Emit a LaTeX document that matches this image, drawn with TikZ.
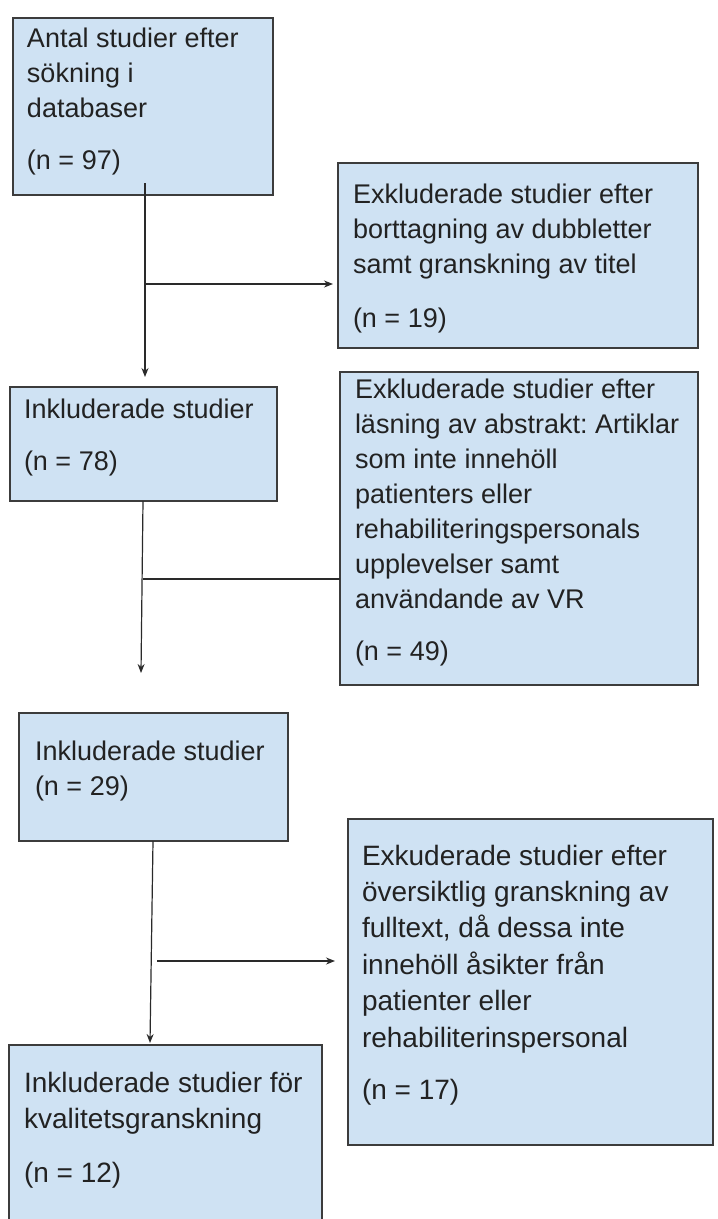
\documentclass[tikz,border=0pt]{standalone}
\usepackage{fontspec}
\setmainfont{Liberation Sans}
\usetikzlibrary{arrows.meta}
\frenchspacing
\definecolor{boxfill}{HTML}{CFE2F3}
\definecolor{boxline}{HTML}{3C3C3C}
\definecolor{txt}{HTML}{222222}
\definecolor{conn}{HTML}{2A2A2A}
% #1 height, #2 inner width, #3 first-baseline offset, #4 text
\newcommand{\bt}[4]{\parbox[c][#1pt][t]{#2pt}{\raggedright\frenchspacing\rule{0pt}{#3pt}#4}}
\tikzset{
  flowbox/.style={draw=boxline, fill=boxfill, line width=1.3pt, anchor=north west,
    inner ysep=0pt, outer sep=0pt, text=txt, font=\fontsize{27}{35}\selectfont},
  bigfont/.style={font=\fontsize{28}{36.4}\selectfont},
  conn/.style={draw=conn, line width=1.2pt},
  arr/.style={conn, -{Stealth[length=9pt,width=7pt]}}
}
\begin{document}
\begin{tikzpicture}[x=1pt,y=-1pt]
\useasboundingbox[fill=white] (0,0) rectangle (718,1219);
\begin{scope}
\clip (0,0) rectangle (718,1219);
\node[flowbox, inner xsep=14pt] (b1) at (13,18)
  {\bt{177}{232}{29}{Antal studier efter\\ sökning i\\ databaser\\[17pt] (n = 97)}};
\node[flowbox, inner xsep=15pt] (b2) at (338,163)
  {\bt{185}{330}{40}{Exkluderade studier efter\\ borttagning av dubbletter\\ samt granskning av titel\\[19pt] (n = 19)}};
\node[flowbox, inner xsep=14pt] (b3) at (10,387)
  {\bt{114}{239}{31}{Inkluderade studier\\[17pt] (n = 78)}};
\node[flowbox, inner xsep=15pt] (b4) at (340,372)
  {\bt{313}{328}{26}{Exkluderade studier efter\\ läsning av abstrakt: Artiklar\\ som inte innehöll\\ patienters eller\\ rehabiliteringspersonals\\ upplevelser samt\\ användande av VR\\[17pt] (n = 49)}};
\node[flowbox, inner xsep=16pt] (b5) at (19,713)
  {\bt{128}{237}{47}{Inkluderade studier\\ (n = 29)}};
\node[flowbox, bigfont, inner xsep=14pt] (b6) at (348,819)
  {\bt{326}{337}{46}{Exkuderade studier efter\\ översiktlig granskning av\\ fulltext, då dessa inte\\ innehöll åsikter från\\ patienter eller\\ rehabiliterinspersonal\\[16pt] (n = 17)}};
\node[flowbox, bigfont, inner xsep=15pt] (b7) at (9,1045)
  {\bt{190}{283}{47}{Inkluderade studier för\\ kvalitetsgranskning\\[18pt] (n = 12)}};
\end{scope}
% connector points
\coordinate (s1) at (145,183);
\coordinate (e1) at (145,377);
\coordinate (j1) at (145,284);
\coordinate (e2) at (333,284);
\coordinate (s3) at (143,501);
\coordinate (e3) at (141,673);
\coordinate (j2) at (143,579);
\coordinate (s5) at (153,841);
\coordinate (e5) at (150,1043);
\coordinate (j3) at (157,961);
\coordinate (e6) at (335,961);
\draw[arr] (s1) -- (e1);
\draw[arr] (j1) -- (e2);
\draw[arr] (s3) -- (e3);
\draw[conn] (j2) -- (j2 -| b4.west);
\draw[arr] (s5) -- (e5);
\draw[arr] (j3) -- (e6);
\end{tikzpicture}
\end{document}
